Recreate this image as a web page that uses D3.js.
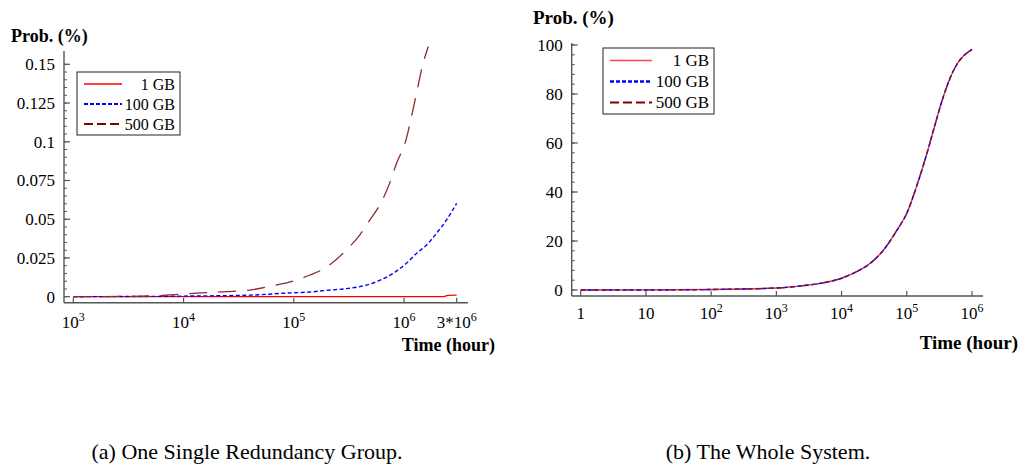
<!DOCTYPE html>
<html>
<head>
<meta charset="utf-8">
<script src="https://cdn.jsdelivr.net/npm/d3@7"></script>
<style>
  body { margin: 0; background: #fff; }
  svg text { font-family: "Liberation Serif", "Times New Roman", Times, serif; }
</style>
</head>
<body>
<svg id="chart" width="1023" height="468"></svg>
<script>
// ---- data: (a) one single redundancy group ----
let seriesNames = ["1 GB", "100 GB", "500 GB"];

let groupTime1 = [1e3, 3e3, 1e4, 1e5, 1e6, 2e6, 2.3e6, 2.5e6, 3e6];
let groupProb1 = [0, 0, 0, 0, 0, 0, 0.0001, 0.0009, 0.001];

let groupTime100 = [1e3, 5e3, 1e4, 4e4, 8e4, 1.5e5, 1.86e5, 3e5, 3.97e5, 5.64e5, 7.96e5, 1.05e6, 1.3e6, 1.6e6, 1.97e6, 2.43e6, 3e6];
let groupProb100 = [0, 0.0002, 0.0004, 0.001, 0.0022, 0.0032, 0.0039, 0.0052, 0.0065, 0.0097, 0.0151, 0.0216, 0.028, 0.0334, 0.041, 0.0496, 0.0603];

let groupTime500 = [1e3, 3e3, 6e3, 1e4, 2e4, 4e4, 7e4, 9.5e4, 1.4e5, 1.9e5, 3e5, 3.97e5, 4.9e5, 6.25e5, 7.4e5, 8.55e5, 1.02e6, 1.25e6, 1.49e6, 1.66e6];
let groupProb500 = [0, 0.0002, 0.0007, 0.0017, 0.003, 0.0043, 0.0076, 0.0097, 0.014, 0.0183, 0.0302, 0.0399, 0.0496, 0.0614, 0.0733, 0.0862, 0.0991, 0.126, 0.1508, 0.1615];

// ---- data: (b) the whole system ----
let systemTime = [1, 10, 100, 1e3, 2.6e3, 4.7e3, 1e4, 1.5e4, 2.75e4, 4.4e4, 7.1e4, 1e5, 1.41e5, 2.04e5, 2.57e5, 3.63e5, 5.25e5, 1e6];
let systemProb1 = [0, 0.05, 0.2, 0.8, 1.8, 2.7, 4.8, 6.8, 10.9, 16.3, 24.5, 31.3, 42.2, 55.8, 65.3, 78.9, 89.8, 98.2];
let systemProb100 = [0, 0.0, 0.2, 0.8, 1.8, 2.7, 4.8, 6.8, 10.9, 16.3, 24.5, 31.3, 42.2, 55.8, 65.3, 78.9, 89.8, 98.2];
let systemProb500 = [0, 0.05, 0.2, 0.8, 1.8, 2.7, 4.8, 6.8, 10.9, 16.3, 24.5, 31.3, 42.3, 55.9, 65.3, 78.9, 89.8, 98.2];

// tick labels
let groupYTicks = [0, 0.025, 0.05, 0.075, 0.1, 0.125, 0.15];
let groupYLabels = ["0", "0.025", "0.05", "0.075", "0.1", "0.125", "0.15"];
let groupXTicks = [1e3, 1e4, 1e5, 1e6, 3e6];
let groupXLabels = [["10", "3"], ["10", "4"], ["10", "5"], ["10", "6"], ["3*10", "6"]];

let systemYTicks = [0, 20, 40, 60, 80, 100];
let systemYLabels = ["0", "20", "40", "60", "80", "100"];
let systemXTicks = [1, 10, 100, 1e3, 1e4, 1e5, 1e6];
let systemXLabels = [["1", ""], ["10", ""], ["10", "2"], ["10", "3"], ["10", "4"], ["10", "5"], ["10", "6"]];

let captions = ["(a) One Single Redundancy Group.", "(b) The Whole System."];

////////////////////////////////////////////////////////////////////////
let svg = d3.select("#chart");
let axisColor = "#555";

function zip(xs, ys) { return xs.map((x, i) => [x, ys[i]]); }

// draws one Mathematica-like panel
function drawPanel(p) {
  let g = svg.append("g");
  let x = d3.scaleLog().domain(p.xDomain).range(p.xRange);
  let y = d3.scaleLinear().domain(p.yDomain).range(p.yRange);

  // axis lines
  g.append("line").attr("x1", p.axisLeft).attr("x2", p.axisLeft)
    .attr("y1", p.axisTop).attr("y2", p.axisBottom)
    .attr("stroke", axisColor).attr("stroke-width", 1.4);
  g.append("line").attr("x1", p.axisLeft).attr("x2", p.axisRight)
    .attr("y1", p.axisBottom).attr("y2", p.axisBottom)
    .attr("stroke", axisColor).attr("stroke-width", 1.6);

  // y ticks (major + 4 minor between)
  let step = p.yTicks[1] - p.yTicks[0];
  let minor = [];
  for (let v = 0; v <= p.yDomain[1] + 1e-9; v += step / 5) minor.push(v);
  g.selectAll(".ymin").data(minor).enter().append("line")
    .attr("x1", p.axisLeft).attr("x2", p.axisLeft + 3)
    .attr("y1", d => y(d)).attr("y2", d => y(d))
    .attr("stroke", axisColor).attr("stroke-width", 1);
  g.selectAll(".ymaj").data(p.yTicks).enter().append("line")
    .attr("x1", p.axisLeft).attr("x2", p.axisLeft + 6)
    .attr("y1", d => y(d)).attr("y2", d => y(d))
    .attr("stroke", axisColor).attr("stroke-width", 1.2);
  g.selectAll(".ylab").data(p.yTicks).enter().append("text")
    .attr("x", p.axisLeft - 9).attr("y", d => y(d)).attr("dy", "0.35em")
    .attr("text-anchor", "end").attr("font-size", 17)
    .text((d, i) => p.yLabels[i]);

  // x ticks
  g.selectAll(".xmaj").data(p.xTicks).enter().append("line")
    .attr("x1", d => x(d)).attr("x2", d => x(d))
    .attr("y1", p.axisBottom).attr("y2", p.axisBottom - 5)
    .attr("stroke", axisColor).attr("stroke-width", 1.2);
  let xl = g.selectAll(".xlab").data(p.xTicks).enter().append("text")
    .attr("x", d => x(d)).attr("y", p.axisBottom + p.xLabelGap)
    .attr("text-anchor", "middle").attr("font-size", 17);
  xl.append("tspan").text((d, i) => p.xLabels[i][0]);
  xl.append("tspan").attr("dy", -7).attr("font-size", 12).text((d, i) => p.xLabels[i][1]);

  // axis labels
  g.append("text").attr("x", p.yLabelX).attr("y", p.yLabelY)
    .attr("font-weight", "bold").attr("font-size", p.labelSize).text("Prob. (%)");
  g.append("text").attr("x", p.xLabelX).attr("y", p.xLabelY)
    .attr("text-anchor", "end").attr("font-weight", "bold")
    .attr("font-size", p.labelSize).text("Time (hour)");

  // curves
  let line = d3.line().x(d => x(d[0])).y(d => y(d[1])).curve(d3.curveMonotoneX);
  p.series.forEach(s => {
    g.append("path").attr("d", line(zip(s.t, s.v)))
      .attr("fill", "none").attr("stroke", s.color)
      .attr("stroke-width", s.width).attr("stroke-dasharray", s.dash);
  });

  // legend
  let lg = g.append("g");
  lg.append("rect").attr("x", p.legend.x).attr("y", p.legend.y)
    .attr("width", p.legend.w).attr("height", p.legend.h)
    .attr("fill", "#fff").attr("stroke", "#222").attr("stroke-width", 1);
  p.series.forEach((s, i) => {
    let cy = p.legend.y + p.legend.first + i * p.legend.gap;
    lg.append("line").attr("x1", p.legend.x + 7).attr("x2", p.legend.x + p.legend.lineW)
      .attr("y1", cy).attr("y2", cy)
      .attr("stroke", s.legendColor).attr("stroke-width", s.legendWidth)
      .attr("stroke-dasharray", s.legendDash);
    lg.append("text").attr("x", p.legend.x + p.legend.w - 5).attr("y", cy).attr("dy", "0.35em")
      .attr("text-anchor", "end").attr("font-size", p.legend.fs).text(seriesNames[i]);
  });

  // caption
  svg.append("text").attr("x", p.captionX).attr("y", 459)
    .attr("text-anchor", "middle").attr("font-size", 22).text(p.caption);
}

drawPanel({
  xDomain: [1e3, 3e6], xRange: [73.3, 456.7],
  yDomain: [0, 0.15], yRange: [296.7, 64.3],
  axisLeft: 64, axisRight: 468, axisTop: 51, axisBottom: 302.7, xLabelGap: 25,
  yTicks: groupYTicks, yLabels: groupYLabels,
  xTicks: groupXTicks, xLabels: groupXLabels,
  yLabelX: 11, yLabelY: 42, xLabelX: 495, xLabelY: 351, labelSize: 18,
  series: [
    { t: groupTime1, v: groupProb1, color: "#ff0000", width: 1.3, dash: null,
      legendColor: "#ff0000", legendWidth: 1.3, legendDash: null },
    { t: groupTime100, v: groupProb100, color: "#0000ff", width: 1.4, dash: "4,2.5",
      legendColor: "#0000ff", legendWidth: 2.2, legendDash: "4,2" },
    { t: groupTime500, v: groupProb500, color: "#8b2a2a", width: 1.3, dash: "18,11",
      legendColor: "#800000", legendWidth: 2, legendDash: "9,4" }
  ],
  legend: { x: 77, y: 72, w: 103, h: 63, first: 12, gap: 20, lineW: 45, fs: 16 },
  caption: captions[0], captionX: 247
});

drawPanel({
  xDomain: [1, 1e6], xRange: [580.7, 972],
  yDomain: [0, 100], yRange: [290, 45],
  axisLeft: 571.7, axisRight: 983, axisTop: 43, axisBottom: 296, xLabelGap: 23,
  yTicks: systemYTicks, yLabels: systemYLabels,
  xTicks: systemXTicks, xLabels: systemXLabels,
  yLabelX: 533, yLabelY: 24, xLabelX: 1018, xLabelY: 349, labelSize: 19,
  series: [
    { t: systemTime, v: systemProb1, color: "#ff3333", width: 1.4, dash: null,
      legendColor: "#ff4444", legendWidth: 1.4, legendDash: null },
    { t: systemTime, v: systemProb100, color: "#0000ff", width: 1.4, dash: "4,3",
      legendColor: "#0000ff", legendWidth: 2.5, legendDash: "4,2" },
    { t: systemTime, v: systemProb500, color: "#7a1f3a", width: 1.3, dash: "6,5",
      legendColor: "#800000", legendWidth: 2.2, legendDash: "9,4" }
  ],
  legend: { x: 603, y: 48, w: 111, h: 66, first: 12.5, gap: 21, lineW: 49, fs: 17 },
  caption: captions[1], captionX: 768
});
</script>
</body>
</html>
